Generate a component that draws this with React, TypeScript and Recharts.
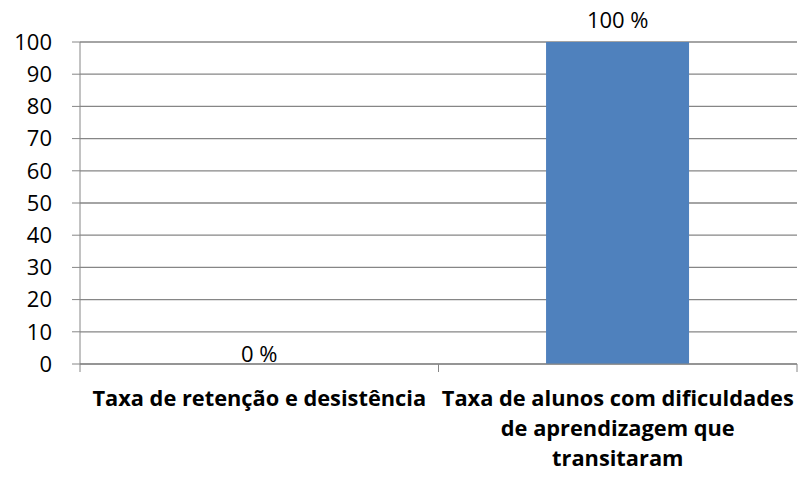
import { Bar, BarChart, CartesianGrid, ReferenceDot, XAxis, YAxis } from "recharts";

const categories = [
  "Taxa de retenção e desistência",
  "Taxa de alunos com dificuldades de aprendizagem que transitaram",
];
const values = [0, 100];
const tickLines = [
  ["Taxa de retenção e desistência"],
  ["Taxa de alunos com dificuldades", "de aprendizagem que", "transitaram"],
];
const yTicks = [0, 10, 20, 30, 40, 50, 60, 70, 80, 90, 100];

const data = categories.map((name, i) => ({ name, value: values[i] }));

const W = 802;
const H = 477;
const LEFT = 80;
const RIGHT = 5;
const HALF_BAND = (W - LEFT - RIGHT) / categories.length / 2;
const FONT = "'Open Sans', sans-serif";
const GRAY = "#868686";

function CategoryTick(props: any) {
  const { x, y, index } = props;
  const lines = tickLines[index] || [];
  return (
    <g>
      <line x1={x - HALF_BAND} y1={y - 8} x2={x - HALF_BAND} y2={y} stroke={GRAY} />
      {index === categories.length - 1 && (
        <line x1={x + HALF_BAND} y1={y - 8} x2={x + HALF_BAND} y2={y} stroke={GRAY} />
      )}
      {lines.map((l, i) => (
        <text
          key={i}
          x={x}
          y={y + 34 + i * 30}
          textAnchor="middle"
          fontFamily={FONT}
          fontWeight="bold"
          fontSize={21.8}
          fill="#000"
        >
          {l}
        </text>
      ))}
    </g>
  );
}

export default function App() {
  return (
    <div style={{ position: "absolute", left: 0, top: 0, background: "#fff" }}>
      <BarChart
        width={W}
        height={H}
        data={data}
        margin={{ top: 42, right: RIGHT, left: 0, bottom: 0 }}
        barCategoryGap="30%"
      >
        <CartesianGrid vertical={false} stroke={GRAY} strokeWidth={1.3} />
        <XAxis
          dataKey="name"
          height={113}
          stroke={GRAY}
          tickLine={false}
          tick={<CategoryTick />}
          interval={0}
        />
        <YAxis
          width={LEFT}
          domain={[0, 100]}
          ticks={yTicks}
          stroke={GRAY}
          tickSize={8}
          tickMargin={20}
          tick={{ fill: "#000", fontSize: 22, fontFamily: FONT }}
          interval={0}
        />
        <Bar dataKey="value" fill="#4F81BD" isAnimationActive={false} />
        {data.map((d) => (
          <ReferenceDot
            key={d.name}
            x={d.name}
            y={d.value}
            r={0}
            fill="none"
            stroke="none"
            label={{
              value: `${d.value} %`,
              position: "top",
              offset: d.value === 0 ? 2 : 14,
              fill: "#000",
              fontSize: 22,
              fontFamily: FONT,
            }}
          />
        ))}
      </BarChart>
    </div>
  );
}
